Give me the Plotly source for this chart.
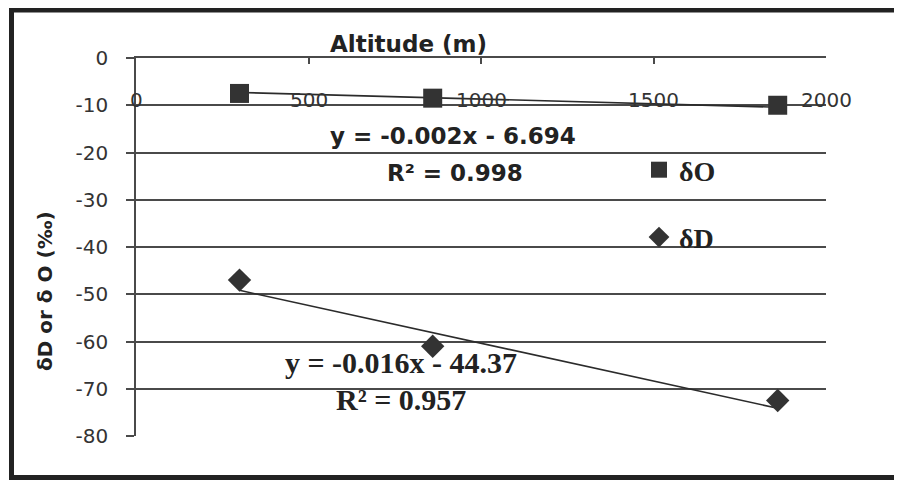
import plotly.graph_objects as go

# ---- data ----
altitude = [300, 860, 1860]
delta_O = [-7.5, -8.5, -10.0]
delta_D = [-47.0, -61.0, -72.5]

# trendline equations (from chart)
slope_O, intercept_O = -0.002, -6.694
slope_D, intercept_D = -0.016, -44.37
eq_O = ["y = -0.002x - 6.694", "R² = 0.998"]
eq_D = ["y = -0.016x - 44.37", "R² = 0.957"]

x_tick_vals = [0, 500, 1000, 1500, 2000]
x_tick_labels = ["0", "500", "1000", "1500", "2000"]
y_tick_vals = [0, -10, -20, -30, -40, -50, -60, -70, -80]
y_tick_labels = ["0", "-10", "-20", "-30", "-40", "-50", "-60", "-70", "-80"]

x_title = "Altitude (m)"
y_title = "δD or δ O (‰)"

# ---- layout helpers (page pixel -> paper / data); page has 8px body margin ----
PL, PT, PW, PH = 136, 58, 690, 378  # plot area on page


def paper_x(p):
    return (p - PL) / PW


def paper_y(p):
    return (PT + PH - p) / PH


def data_x(p):
    return (p - PL) / PW * 2000


def data_y(p):
    return -(p - PT) / PH * 80


INK = "#2b2b2b"
GRID = "#4a4a4a"
TICKFONT = dict(family="DejaVu Sans", size=20, color="#333333")

fig = go.Figure()

x_fit = [altitude[0], altitude[-1]]
fig.add_trace(go.Scatter(
    x=x_fit, y=[slope_O * x + intercept_O for x in x_fit],
    mode="lines", line=dict(color=INK, width=1.6), showlegend=False, hoverinfo="skip"))
fig.add_trace(go.Scatter(
    x=x_fit, y=[slope_D * x + intercept_D for x in x_fit],
    mode="lines", line=dict(color=INK, width=1.6), showlegend=False, hoverinfo="skip"))

fig.add_trace(go.Scatter(
    x=altitude, y=delta_O, mode="markers", name="δO", legendgroup="o",
    marker=dict(symbol="square", size=19, color="#333333")))
fig.add_trace(go.Scatter(
    x=altitude, y=delta_D, mode="markers", name="δD", legendgroup="d",
    marker=dict(symbol="diamond", size=18, color="#333333")))

fig.update_xaxes(
    range=[0, 2000], side="top", showgrid=False, zeroline=False,
    showline=True, linecolor=GRID, linewidth=1.5,
    ticks="inside", ticklen=6, tickcolor=GRID, tickwidth=1.5,
    tickvals=x_tick_vals, showticklabels=False)
fig.update_yaxes(
    range=[-80, 0], tickvals=y_tick_vals, ticktext=y_tick_labels,
    showgrid=True, gridcolor=GRID, gridwidth=1.5,
    zeroline=False, showline=True, linecolor=GRID, linewidth=1.5,
    ticks="outside", ticklen=8, tickcolor=GRID, tickwidth=1.5,
    tickfont=TICKFONT, ticklabelstandoff=14)

annotations = []
for v, lab in zip(x_tick_vals, x_tick_labels):
    annotations.append(dict(x=v, y=data_y(100), xref="x", yref="y", text=lab, showarrow=False,
                            font=TICKFONT, xanchor="center", yanchor="middle"))

annotations.append(dict(x=paper_x(408), y=paper_y(44), xref="paper", yref="paper",
                        text="<b>" + x_title + "</b>", showarrow=False,
                        xanchor="center", yanchor="middle",
                        font=dict(family="DejaVu Sans", size=23, color="#222222")))
annotations.append(dict(x=paper_x(45), y=paper_y(291), xref="paper", yref="paper",
                        text="<b>" + y_title + "</b>", showarrow=False, textangle=-90,
                        xanchor="center", yanchor="middle",
                        font=dict(family="DejaVu Sans", size=20, color="#222222")))

eq_font_sans = dict(family="DejaVu Sans", size=23, color="#222222")
eq_font_serif = dict(family="Liberation Serif", size=30, color="#222222")
annotations.append(dict(x=data_x(453), y=data_y(136), text="<b>" + eq_O[0] + "</b>",
                        showarrow=False, font=eq_font_sans, xanchor="center", yanchor="middle"))
annotations.append(dict(x=data_x(455), y=data_y(173), text="<b>" + eq_O[1] + "</b>",
                        showarrow=False, font=eq_font_sans, xanchor="center", yanchor="middle"))
annotations.append(dict(x=data_x(401), y=data_y(362), text="<b>" + eq_D[0] + "</b>",
                        showarrow=False, font=eq_font_serif, xanchor="center", yanchor="middle"))
annotations.append(dict(x=data_x(401), y=data_y(399), text="<b>" + eq_D[1] + "</b>",
                        showarrow=False, font=eq_font_serif, xanchor="center", yanchor="middle"))

W, H = 886, 472  # fits the 902x488 window inside the 8px body margin
RIGHT_EDGE = 8 + W  # page x of figure's right edge

BORDER = dict(color="#222222", width=5)
border_shapes = [
    dict(type="line", xref="paper", yref="paper", x0=paper_x(11.5), x1=paper_x(11.5),
         y0=paper_y(480), y1=paper_y(8), line=BORDER),
    dict(type="line", xref="paper", yref="paper", x0=paper_x(9), x1=paper_x(RIGHT_EDGE),
         y0=paper_y(10), y1=paper_y(10), line=BORDER),
    dict(type="line", xref="paper", yref="paper", x0=paper_x(9), x1=paper_x(RIGHT_EDGE),
         y0=paper_y(477.5), y1=paper_y(477.5), line=BORDER),
]

fig.update_layout(
    width=W, height=H,
    margin=dict(l=PL - 8, r=W - (PL - 8) - PW, t=PT - 8, b=H - (PT - 8) - PH),
    paper_bgcolor="white", plot_bgcolor="white",
    annotations=annotations,
    showlegend=True,
    legend=dict(x=paper_x(639), y=paper_y(145), xanchor="left", yanchor="top",
                font=dict(family="Liberation Serif", size=28, color="#222222", weight="bold"),
                tracegroupgap=28, bgcolor="rgba(0,0,0,0)"),
    shapes=border_shapes,
)

fig.write_html("out.html")
